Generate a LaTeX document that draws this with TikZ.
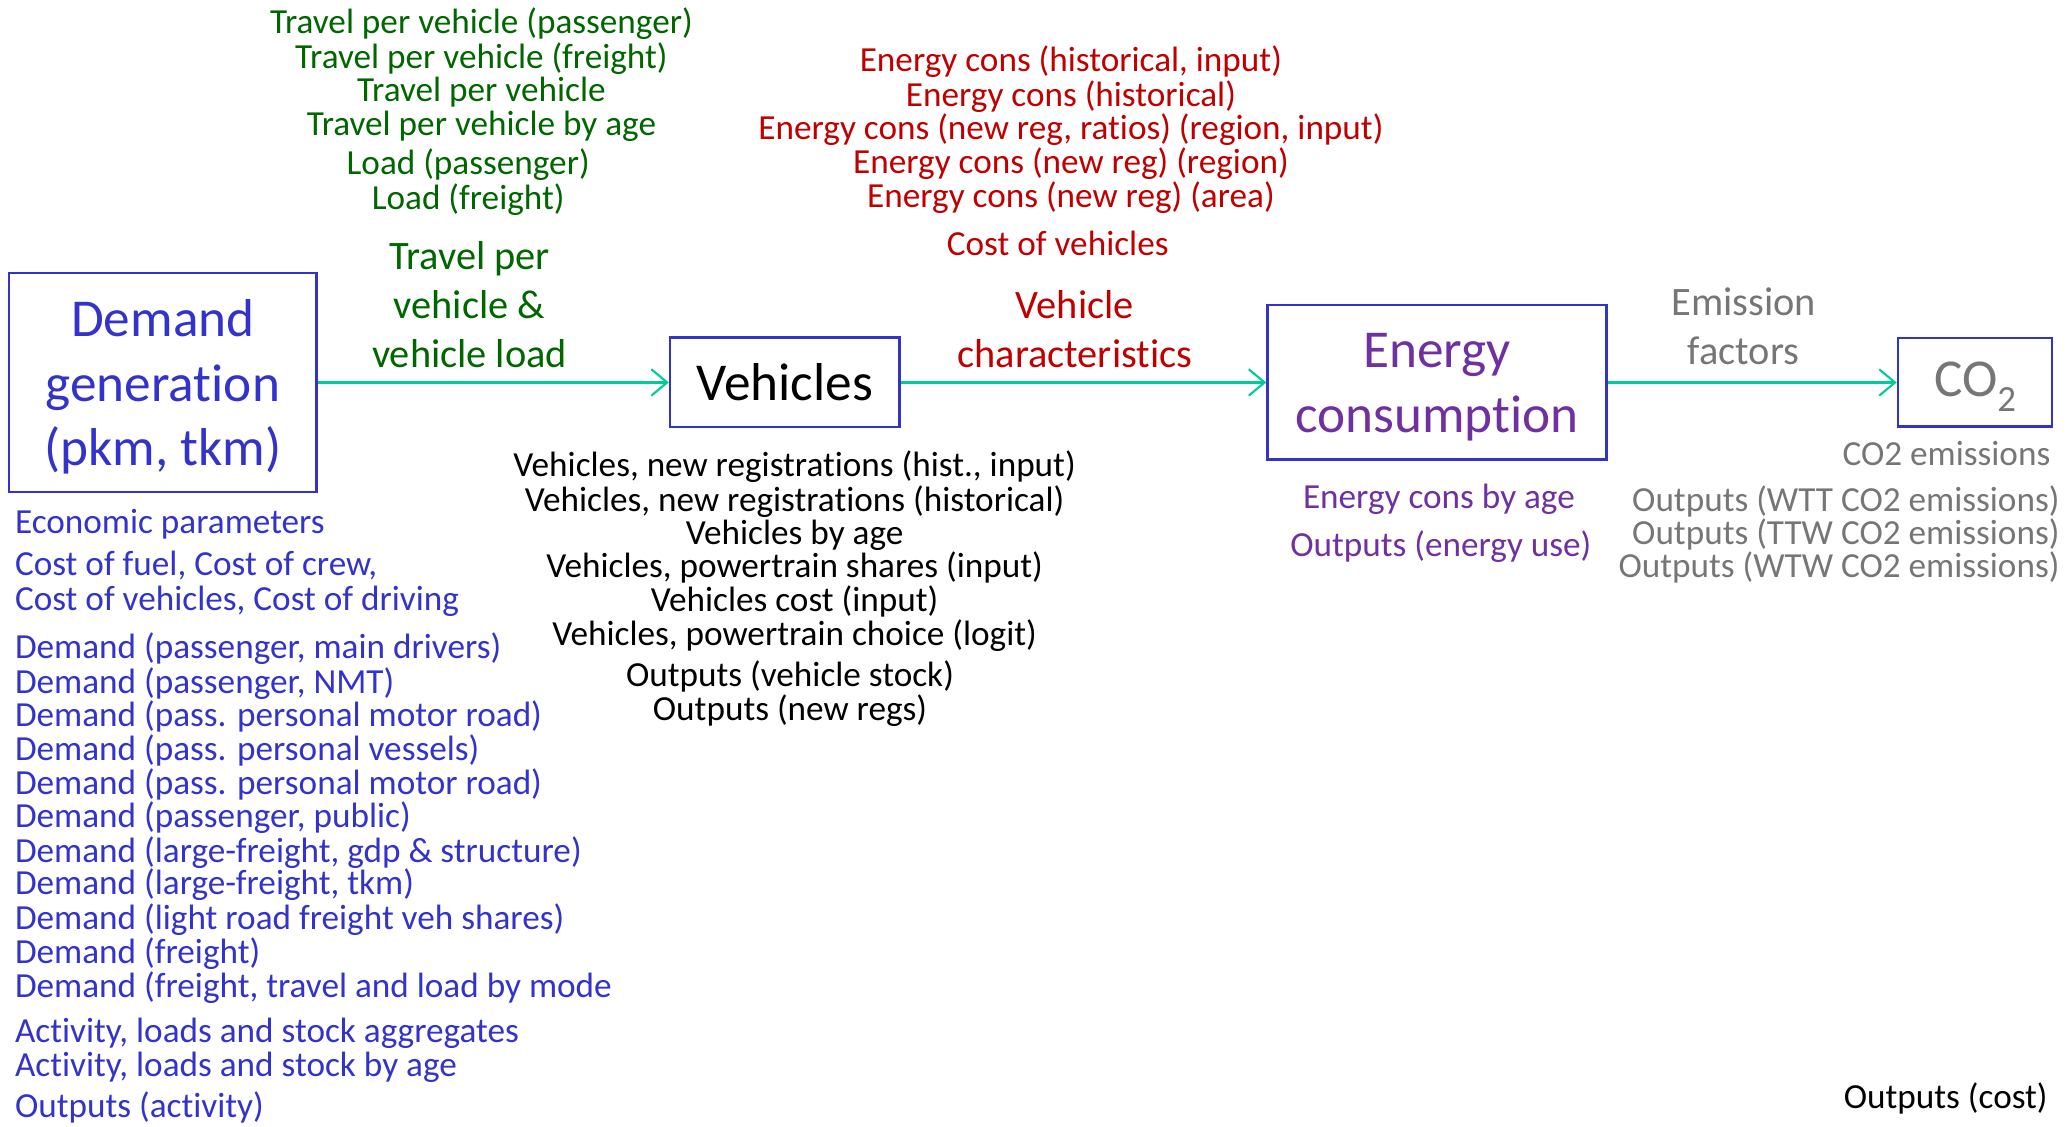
\documentclass[tikz,border=0pt]{standalone}
\usepackage{fontspec}
\setmainfont{Carlito}[Ligatures=CommonOff]
\usetikzlibrary{arrows.meta}

\definecolor{dmdblue}{RGB}{51,51,204}
\definecolor{travgreen}{RGB}{0,102,0}
\definecolor{vehred}{RGB}{192,0,0}
\definecolor{enpurple}{RGB}{112,48,160}
\definecolor{emgray}{RGB}{118,118,118}
\definecolor{flowteal}{RGB}{0,204,153}

\begin{document}
\begin{tikzpicture}[x=0.5pt, y=-0.5pt,
    box/.style={draw=dmdblue, line width=0.9pt, inner sep=0pt},
    boxtxt/.style={inner sep=0pt, align=center, font=\fontsize{20.2}{24.5}\selectfont},
    flow/.style={draw=flowteal, line width=0.8pt, -{Straight Barb[length=6pt,width=10pt]}},
    flowlbl/.style={align=center, font=\fontsize{15.3}{18.5}\selectfont},
    lst/.style={inner sep=0pt, font=\fontsize{13.35}{12.75}\selectfont,
        text height=0.9em, text depth=0.04em}]
    \useasboundingbox (0,0) rectangle (1568,854);

    % Boites principales
    \node[box, minimum width=116.5pt, minimum height=83pt] (demand) at (123.5,290) {};
    \node[box, minimum width=87pt, minimum height=34pt] (vehicles) at (595,290) {};
    \node[box, minimum width=128.5pt, minimum height=58.5pt] (energy) at (1089.5,290) {};
    \node[box, minimum width=58.5pt, minimum height=33.5pt] (co2) at (1497.5,290) {};

    \node[boxtxt, text=dmdblue] (demandtxt) at ([yshift=-1.75pt]demand.center)
        {Demand\\generation\\(pkm, tkm)};
    \node[boxtxt] (vehiclestxt) at (vehicles.center) {Vehicles};
    \node[boxtxt, text=enpurple] (energytxt) at ([yshift=-1.75pt]energy.center)
        {Energy\\consumption};
    \node[boxtxt, text=emgray] (co2txt) at ([yshift=-1.5pt]co2.center)
        {CO\raisebox{-0.28em}{\fontsize{14}{14}\selectfont 2}};

    % Fleches et leurs etiquettes
    \draw[flow] (demand) -- (vehicles);
    \draw[flow] (vehicles) -- (energy);
    \draw[flow] (energy) -- (co2);
    \node[flowlbl, text=travgreen] (tpv) at (356,231) {Travel per\\vehicle \&\\vehicle load};
    \node[flowlbl, text=vehred] (vchar) at (815,249.5) {Vehicle\\characteristics};
    \node[flowlbl, text=emgray] (efac) at (1322,247.5) {Emission\\factors};

    % ---- Listes de variables ----
    \foreach \x/\y/\txt in {
        365/17/{Travel per vehicle (passenger)},
        365/43/{Travel per vehicle (freight)},
        365/68/{Travel per vehicle},
        365/94/{Travel per vehicle by age},
        355/124/{Load (passenger)},
        355/150/{Load (freight)}
    }{
        \node[lst, text=travgreen] (tr\y) at (\x,\y) {\txt};
    }

    \foreach \x/\y/\txt in {
        812/46/{Energy cons (historical, input)},
        812/72/{Energy cons (historical)},
        812/97/{Energy cons (new reg, ratios) (region, input)},
        812/123/{Energy cons (new reg) (region)},
        812/149/{Energy cons (new reg) (area)},
        802/185/{Cost of vehicles}
    }{
        \node[lst, text=vehred] (ec\y) at (\x,\y) {\txt};
    }

    \foreach \x/\y/\txt in {
        602.5/353/{Vehicles, new registrations (hist., input)},
        602.5/379/{Vehicles, new registrations (historical)},
        602.5/404/{Vehicles by age},
        602.5/429/{Vehicles, powertrain shares (input)},
        602.5/455/{Vehicles cost (input)},
        602.5/481/{Vehicles, powertrain choice (logit)},
        599/512/{Outputs (vehicle stock)},
        599/538/{Outputs (new regs)}
    }{
        \node[lst] (vh\y) at (\x,\y) {\txt};
    }

    \foreach \y/\txt in {
        396/{Economic parameters},
        428/{Cost of fuel, Cost of crew,},
        454/{Cost of vehicles, Cost of driving},
        491/{Demand (passenger, main drivers)},
        517/{Demand (passenger, NMT)},
        542/{Demand (pass. personal motor road)},
        568/{Demand (pass. personal vessels)},
        594/{Demand (pass. personal motor road)},
        619/{Demand (passenger, public)},
        645/{Demand (large-freight, gdp \& structure)},
        670/{Demand (large-freight, tkm)},
        696/{Demand (light road freight veh shares)},
        722/{Demand (freight)},
        748/{Demand (freight, travel and load by mode},
        782/{Activity, loads and stock aggregates},
        808/{Activity, loads and stock by age},
        839/{Outputs (activity)}
    }{
        \node[lst, text=dmdblue, anchor=west] (dm\y) at (11,\y) {\txt};
    }

    \node[lst, text=enpurple] (ecage) at (1091,377) {Energy cons by age};
    \node[lst, text=enpurple] (outen) at (1092.5,413) {Outputs (energy use)};

    \node[lst, text=emgray, anchor=east] (co2em) at (1555,344) {CO2 emissions};
    \foreach \y/\txt in {379/WTT, 404/TTW, 429/WTW}{
        \node[lst, text=emgray, anchor=east] (out\txt) at (1562,\y) {Outputs (\txt{} CO2 emissions)};
    }

    \node[lst, anchor=east] (outcost) at (1553,832) {Outputs (cost)};

\end{tikzpicture}
\end{document}
